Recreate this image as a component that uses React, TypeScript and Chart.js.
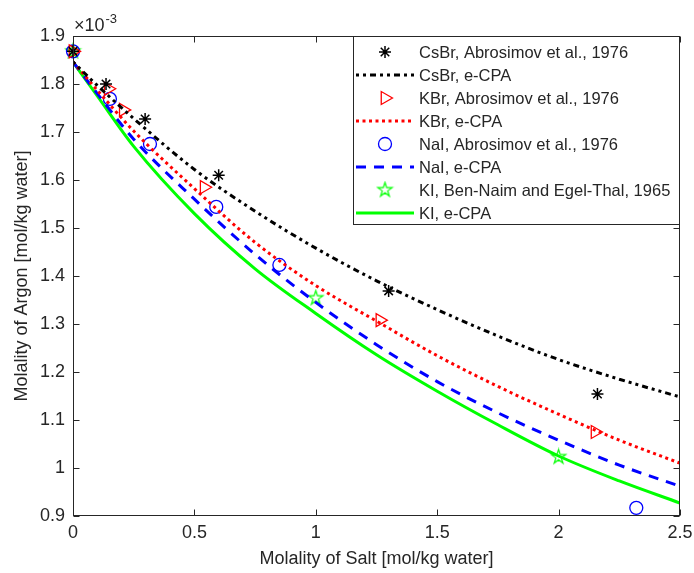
import React, { useEffect, useRef } from "react";
import { Chart, registerables } from "chart.js";
Chart.register(...registerables);

// ---------- data (molality of argon in units of 1e-3 mol/kg water) ----------
const xTickValues = [0, 0.5, 1, 1.5, 2, 2.5];
const xTickLabels = ["0", "0.5", "1", "1.5", "2", "2.5"];
const yTickValues = [0.9, 1.0, 1.1, 1.2, 1.3, 1.4, 1.5, 1.6, 1.7, 1.8, 1.9];
const yTickLabels = ["0.9", "1", "1.1", "1.2", "1.3", "1.4", "1.5", "1.6", "1.7", "1.8", "1.9"];

const csbrExpX = [0, 0.136, 0.297, 0.6, 1.3, 2.16];
const csbrExpY = [1.868, 1.8, 1.727, 1.61, 1.369, 1.154];
const kbrExpX = [0, 0.145, 0.207, 0.54, 1.264, 2.15];
const kbrExpY = [1.868, 1.79, 1.746, 1.585, 1.308, 1.075];
const naiExpX = [0, 0.152, 0.317, 0.59, 0.85, 2.32];
const naiExpY = [1.868, 1.769, 1.675, 1.544, 1.423, 0.917];
const kiExpX = [0, 1.0, 2.0];
const kiExpY = [1.868, 1.354, 1.023];

const modelX = [0, 0.1, 0.25, 0.5, 0.75, 1.0, 1.25, 1.5, 1.75, 2.0, 2.25, 2.5];
const csbrModel = [1.846, 1.797, 1.728, 1.622, 1.535, 1.458, 1.39, 1.33, 1.275, 1.226, 1.185, 1.148];
const kbrModel = [1.846, 1.787, 1.702, 1.582, 1.47, 1.38, 1.306, 1.234, 1.17, 1.112, 1.058, 1.01];
const naiModel = [1.846, 1.78, 1.685, 1.56, 1.445, 1.345, 1.257, 1.18, 1.115, 1.058, 1.006, 0.962];
const kiModel = [1.846, 1.775, 1.67, 1.53, 1.415, 1.322, 1.236, 1.16, 1.09, 1.025, 0.973, 0.927];

const legendLabels = [
  "CsBr, Abrosimov et al., 1976",
  "CsBr, e-CPA",
  "KBr, Abrosimov et al., 1976",
  "KBr, e-CPA",
  "NaI, Abrosimov et al., 1976",
  "NaI, e-CPA",
  "KI, Ben-Naim and Egel-Thal, 1965",
  "KI, e-CPA",
];

const AXIS = "#262626";
const FONT = "'Liberation Sans', Arial, Helvetica, sans-serif";
const BLACK = "#000000";
const RED = "#ff0000";
const BLUE = "#0000ff";
const GREEN = "#00ff00";

const DASH_CS = [3, 4, 3, 4, 6, 4];
const DASH_K = [3, 3.5];
const DASH_NA = [10, 8];

function pts(xs: number[], ys: number[]) {
  return xs.map((x, i) => ({ x, y: ys[i] }));
}

function makePentagram(color: string, R: number): HTMLCanvasElement {
  const size = Math.ceil(R * 2 + 4);
  const c = document.createElement("canvas");
  c.width = size;
  c.height = size;
  const g = c.getContext("2d")!;
  const cx = size / 2;
  const cy = size / 2;
  const r = R * 0.382;
  g.beginPath();
  for (let i = 0; i < 10; i++) {
    const ang = -Math.PI / 2 + (i * Math.PI) / 5;
    const rr = i % 2 === 0 ? R : r;
    const px = cx + rr * Math.cos(ang);
    const py = cy + rr * Math.sin(ang);
    if (i === 0) g.moveTo(px, py);
    else g.lineTo(px, py);
  }
  g.closePath();
  g.strokeStyle = color;
  g.lineWidth = 1.2;
  g.stroke();
  return c;
}

function drawMarker(ctx: CanvasRenderingContext2D, type: string, x: number, y: number, color: string, img?: HTMLCanvasElement) {
  ctx.save();
  ctx.strokeStyle = color;
  ctx.setLineDash([]);
  if (type === "star") {
    const r = 6;
    ctx.lineWidth = 1.5;
    ctx.beginPath();
    for (let i = 0; i < 4; i++) {
      const a = (i * Math.PI) / 4;
      ctx.moveTo(x - r * Math.cos(a), y - r * Math.sin(a));
      ctx.lineTo(x + r * Math.cos(a), y + r * Math.sin(a));
    }
    ctx.stroke();
  } else if (type === "tri") {
    const r = 7.5;
    ctx.lineWidth = 1.3;
    ctx.beginPath();
    ctx.moveTo(x + r, y);
    ctx.lineTo(x - r / 2, y - r * 0.866);
    ctx.lineTo(x - r / 2, y + r * 0.866);
    ctx.closePath();
    ctx.stroke();
  } else if (type === "circle") {
    ctx.lineWidth = 1.3;
    ctx.beginPath();
    ctx.arc(x, y, 6.5, 0, Math.PI * 2);
    ctx.stroke();
  } else if (type === "penta" && img) {
    ctx.drawImage(img, x - img.width / 2, y - img.height / 2);
  }
  ctx.restore();
}

export default function App() {
  const ref = useRef<HTMLCanvasElement | null>(null);

  useEffect(() => {
    const canvas = ref.current;
    if (!canvas) return;
    const penta = makePentagram(GREEN, 7.5);

    const legendItems = [
      { kind: "marker", type: "star", color: BLACK },
      { kind: "line", color: BLACK, dash: DASH_CS, width: 3 },
      { kind: "marker", type: "tri", color: RED },
      { kind: "line", color: RED, dash: DASH_K, width: 3 },
      { kind: "marker", type: "circle", color: BLUE },
      { kind: "line", color: BLUE, dash: DASH_NA, width: 3 },
      { kind: "marker", type: "penta", color: GREEN },
      { kind: "line", color: GREEN, dash: [] as number[], width: 3 },
    ];

    const decor = {
      id: "decor",
      afterDraw(chart: any) {
        const ctx: CanvasRenderingContext2D = chart.ctx;
        const a = chart.chartArea;
        const xs = chart.scales.x;
        const ys = chart.scales.y;
        ctx.save();
        // box
        ctx.strokeStyle = AXIS;
        ctx.lineWidth = 1;
        ctx.setLineDash([]);
        const L = Math.round(a.left) + 0.5;
        const R = Math.round(a.right) - 0.5;
        const T = Math.round(a.top) + 0.5;
        const B = Math.round(a.bottom) - 0.5;
        ctx.strokeRect(L, T, R - L, B - T);
        // inward ticks
        const tl = 6;
        ctx.beginPath();
        xTickValues.forEach((v) => {
          const px = Math.round(xs.getPixelForValue(v)) + 0.5;
          ctx.moveTo(px, B);
          ctx.lineTo(px, B - tl);
          ctx.moveTo(px, T);
          ctx.lineTo(px, T + tl);
        });
        yTickValues.forEach((v) => {
          const py = Math.round(ys.getPixelForValue(v)) + 0.5;
          ctx.moveTo(L, py);
          ctx.lineTo(L + tl, py);
          ctx.moveTo(R, py);
          ctx.lineTo(R - tl, py);
        });
        ctx.stroke();

        // exponent label
        ctx.fillStyle = AXIS;
        ctx.textBaseline = "alphabetic";
        ctx.textAlign = "left";
        ctx.font = `18px ${FONT}`;
        ctx.fillText("\u00d710", 74, 31);
        const w = ctx.measureText("\u00d710").width;
        ctx.font = `13px ${FONT}`;
        ctx.fillText("-3", 74 + w + 1, 23);

        // axis titles
        ctx.font = `18px ${FONT}`;
        ctx.textAlign = "center";
        ctx.textBaseline = "middle";
        ctx.fillText("Molality of Salt [mol/kg water]", (a.left + a.right) / 2, 559);
        ctx.save();
        ctx.translate(22, (a.top + a.bottom) / 2);
        ctx.rotate(-Math.PI / 2);
        ctx.fillText("Molality of Argon [mol/kg water]", 0, 0);
        ctx.restore();

        // legend
        const lx0 = 353.5;
        const ly0 = T;
        const lx1 = R;
        const ly1 = 224.5;
        ctx.fillStyle = "#ffffff";
        ctx.fillRect(lx0, ly0, lx1 - lx0, ly1 - ly0);
        ctx.strokeStyle = AXIS;
        ctx.lineWidth = 1;
        ctx.strokeRect(lx0, ly0, lx1 - lx0, ly1 - ly0);
        ctx.font = `16.5px ${FONT}`;
        ctx.textAlign = "left";
        ctx.textBaseline = "middle";
        legendItems.forEach((it: any, i) => {
          const cy = 52 + i * 23;
          if (it.kind === "line") {
            ctx.save();
            ctx.strokeStyle = it.color;
            ctx.lineWidth = it.width;
            ctx.lineCap = "butt";
            ctx.setLineDash(it.dash);
            ctx.beginPath();
            ctx.moveTo(356, cy);
            ctx.lineTo(414, cy);
            ctx.stroke();
            ctx.restore();
          } else {
            drawMarker(ctx, it.type, 385, cy, it.color, penta);
          }
          ctx.fillStyle = AXIS;
          ctx.fillText(legendLabels[i], 419, cy + 1);
        });
        ctx.restore();
      },
    };

    const lineDs = (label: string, ys: number[], color: string, dash: number[], width: number) => ({
      type: "line" as const,
      label,
      data: pts(modelX, ys),
      borderColor: color,
      backgroundColor: color,
      borderWidth: width,
      borderDash: dash,
      borderCapStyle: "butt" as const,
      pointRadius: 0,
      showLine: true,
      fill: false,
      cubicInterpolationMode: "monotone" as const,
    });

    const markDs = (label: string, xs: number[], ys: number[], color: string, style: any, radius: number, rotation = 0, bw = 1.3) => ({
      type: "scatter" as const,
      label,
      data: pts(xs, ys),
      borderColor: color,
      backgroundColor: "rgba(0,0,0,0)",
      pointStyle: style,
      pointRadius: radius,
      pointRotation: rotation,
      pointBorderWidth: bw,
      showLine: false,
      clip: false as any,
    });

    const chart = new Chart(canvas, {
      type: "scatter",
      data: {
        datasets: [
          markDs(legendLabels[0], csbrExpX, csbrExpY, BLACK, "star", 6, 0, 1.5),
          lineDs(legendLabels[1], csbrModel, BLACK, DASH_CS, 3),
          markDs(legendLabels[2], kbrExpX, kbrExpY, RED, "triangle", 7.5, 90),
          lineDs(legendLabels[3], kbrModel, RED, DASH_K, 3),
          markDs(legendLabels[4], naiExpX, naiExpY, BLUE, "circle", 6.5),
          lineDs(legendLabels[5], naiModel, BLUE, DASH_NA, 3),
          markDs(legendLabels[6], kiExpX, kiExpY, GREEN, penta, 7.5),
          lineDs(legendLabels[7], kiModel, GREEN, [], 3),
        ] as any,
      },
      options: {
        animation: false,
        responsive: false,
        devicePixelRatio: 1,
        layout: { padding: { top: 36, right: 14, left: 0, bottom: 0 } },
        plugins: {
          legend: { display: false },
          tooltip: { enabled: false },
          title: { display: false },
        },
        scales: {
          x: {
            type: "linear",
            min: 0,
            max: 2.5,
            afterBuildTicks: (s: any) => {
              s.ticks = xTickValues.map((v) => ({ value: v }));
            },
            afterFit: (s: any) => {
              s.height = 57;
              s.paddingLeft = 0;
              s.paddingRight = 0;
            },
            grid: { display: false, drawTicks: false },
            border: { display: false },
            ticks: {
              padding: 6,
              color: AXIS,
              font: { family: FONT, size: 18 },
              maxRotation: 0,
              autoSkip: false,
              callback: (_v: any, i: number) => xTickLabels[i],
            },
          },
          y: {
            type: "linear",
            min: 0.9,
            max: 1.9,
            afterBuildTicks: (s: any) => {
              s.ticks = yTickValues.map((v) => ({ value: v }));
            },
            afterFit: (s: any) => {
              s.width = 73;
              s.paddingTop = 0;
              s.paddingBottom = 0;
            },
            grid: { display: false, drawTicks: false },
            border: { display: false },
            ticks: {
              padding: 8,
              color: AXIS,
              font: { family: FONT, size: 18 },
              autoSkip: false,
              callback: (_v: any, i: number) => yTickLabels[i],
            },
          },
        },
      } as any,
      plugins: [decor],
    });

    return () => {
      chart.destroy();
    };
  }, []);

  return (
    <div style={{ position: "fixed", left: 0, top: 0, width: 694, height: 573, background: "#ffffff" }}>
      <canvas ref={ref} width={694} height={573} style={{ width: 694, height: 573, display: "block" }} />
    </div>
  );
}
